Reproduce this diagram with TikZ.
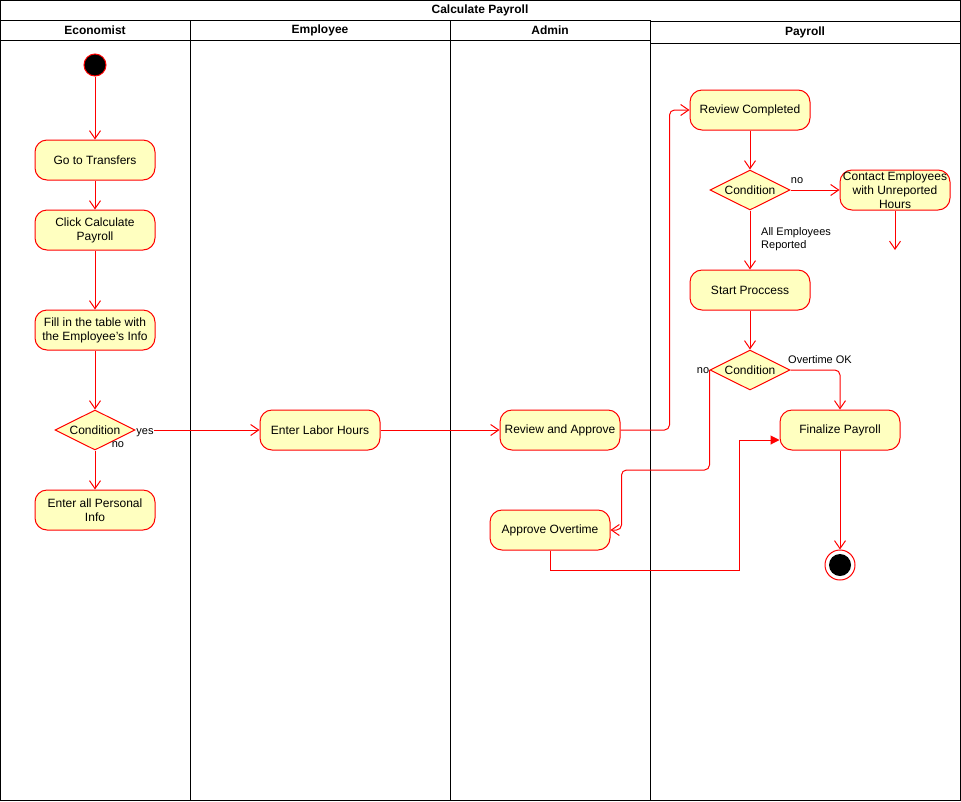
\documentclass[tikz,border=0pt]{standalone}
\usepackage{fontspec}
\setmainfont{Liberation Sans}
\usetikzlibrary{shapes.geometric,arrows.meta,calc}
\definecolor{actfill}{HTML}{FFFFC0}
\definecolor{actline}{HTML}{FF0000}
\tikzset{
  frame/.style={draw=black, line width=1pt},
  act/.style={draw=actline, fill=actfill, line width=1pt, rounded corners=12pt,
    minimum width=120pt, minimum height=40pt, align=center, inner sep=1pt,
    font=\fontsize{12}{14}\selectfont},
  cond/.style={draw=actline, fill=actfill, line width=1pt, diamond, aspect=2,
    minimum width=80pt, minimum height=40pt, inner sep=0pt,
    font=\fontsize{12}{14}\selectfont},
  arr/.style={draw=actline, line width=1pt, -{Straight Barb[length=8pt,width=11pt]}},
  farr/.style={draw=actline, line width=1pt, -{Triangle[length=9pt,width=9pt]}},
  lbl/.style={font=\fontsize{11}{13}\selectfont, inner sep=0pt, align=left},
  hdr/.style={font=\bfseries\fontsize{12}{14}\selectfont, inner sep=0pt},
}
\begin{document}
\begin{tikzpicture}[x=1pt,y=-1pt]
\useasboundingbox (0,0) rectangle (961,801);
% frame and lanes
\draw[frame] (0.5,0.5) rectangle (960,800);
\draw[frame] (0.5,20) -- (650,20);
\draw[frame] (650,21.5) -- (960,21.5);
\draw[frame] (0.5,40) -- (650,40);
\draw[frame] (650,43) -- (960,43);
\draw[frame] (190,20) -- (190,800);
\draw[frame] (450,20) -- (450,800);
\draw[frame] (650,20) -- (650,800);
\node[hdr] (title) at (480,10) {Calculate Payroll};
\node[hdr] (h1) at (95,30) {Economist};
\node[hdr] (h2) at (320,30) {Employee};
\node[hdr] (h3) at (550,30) {Admin};
\node[hdr] (h4) at (805,32) {Payroll};
% nodes
\node[circle, draw=actline, fill=black, line width=1pt, minimum size=22pt, inner sep=0pt] (start) at (95,65) {};
\node[act] (go) at (95,160) {Go to Transfers};
\node[act] (click) at (95,230) {Click Calculate\\Payroll};
\node[act] (fill) at (95,330) {Fill in the table with\\the Employee's Info};
\node[cond] (c1) at (95,430) {Condition};
\node[act] (pers) at (95,510) {Enter all Personal\\Info};
\node[act] (labor) at (320,430) {Enter Labor Hours};
\node[act] (ra) at (560,430) {Review and Approve};
\node[act] (ao) at (550,530) {Approve Overtime};
\node[act] (rc) at (750,110) {Review Completed};
\node[cond] (c2) at (750,190) {Condition};
\node[act, minimum width=110pt] (contact) at (895,190) {Contact Employees\\with Unreported\\Hours};
\coordinate (dangle) at (895,250);
\node[act] (sp) at (750,290) {Start Proccess};
\node[cond] (c3) at (750,370) {Condition};
\node[act] (fp) at (840,430) {Finalize Payroll};
\node[circle, draw=actline, fill=white, line width=1pt, minimum size=30pt, inner sep=0pt] (end) at (840,565) {};
\fill[black] (end.center) circle (11pt);
% edges
\draw[arr] (start) -- (go);
\draw[arr] (go) -- (click);
\draw[arr] (click) -- (fill);
\draw[arr] (fill) -- (c1);
\draw[arr] (c1) -- (pers);
\draw[arr] (c1.east) -- (labor.west);
\draw[arr] (labor) -- (ra);
\draw[arr, rounded corners=5pt] (ra.east) -| ($(rc.west)+(-20,0)$) -- (rc.west);
\draw[arr] (rc) -- (c2);
\draw[arr] (c2.east) -- (contact.west);
\draw[arr] (contact.south) -- (dangle);
\draw[arr] (c2) -- (sp);
\draw[arr] (sp) -- (c3);
\draw[arr, rounded corners=5pt] (c3.east) -| (fp.north);
\draw[arr, rounded corners=5pt] (c3.west) -- ++(0,100) -| ($(ao.east)+(11,0)$) -- (ao.east);
\draw[farr] (ao.south) -- ++(0,20) -| ($(fp.west)+(-40,10)$) -- ($(fp.west)+(0,10)$);
\draw[arr] (fp) -- (end);
% labels
\node[lbl, fill=white] (lyes) at (145,433) {yes};
\node[lbl, fill=white] (lno1) at (118,445) {no};
\node[lbl] (lno2) at (797,181) {no};
\node[lbl, anchor=west] (lall) at (761,239) {All Employees\\Reported};
\node[lbl] (lok) at (820,360) {Overtime OK};
\node[lbl, fill=white] (lno3) at (703,371) {no};
\end{tikzpicture}
\end{document}
